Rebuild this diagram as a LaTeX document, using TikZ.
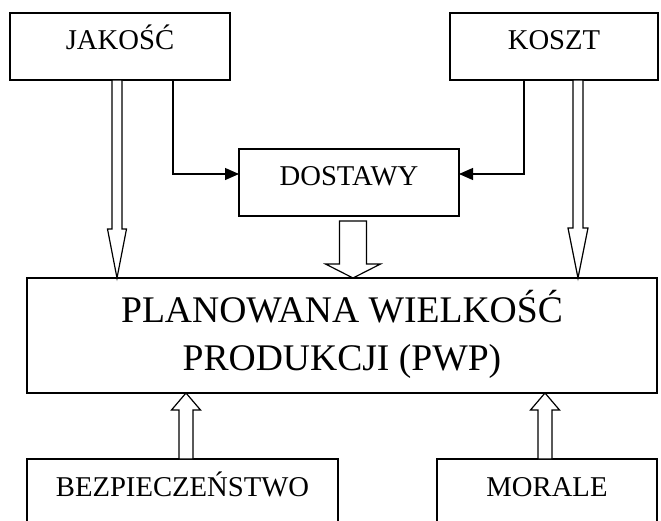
\documentclass[tikz,border=0pt]{standalone}
\usepackage{fontspec}
\setmainfont{Liberation Serif}
\usetikzlibrary{arrows.meta,calc}

\newcommand\labelfont{\fontsize{21.5pt}{26pt}\selectfont}
\newcommand\titlefont{\fontsize{28.2pt}{36pt}\selectfont}

% hollow block arrow: #1 tail point, #2 tip, #3 half shaft width,
% #4 half head width, #5 signed offset from the tip to the head base
\newcommand\blockarrow[5]{%
  \path (#2) ++(0,#5) coordinate (hb);
  \draw[blk] ($(#1)+(-#3,0)$) -- ($(hb)+(-#3,0)$) -- ($(hb)+(-#4,0)$)
    -- (#2) -- ($(hb)+(#4,0)$) -- ($(hb)+(#3,0)$) -- ($(#1)+(#3,0)$) -- cycle;
}

\begin{document}
\begin{tikzpicture}[x=0.75pt,y=-0.75pt,
  box/.style={draw, line width=1pt, rectangle, inner sep=0pt, outer sep=0pt,
    anchor=north west, font=\labelfont},
  conn/.style={line width=0.9pt, -{Triangle[length=10.5pt,width=9pt]}},
  blk/.style={draw, line width=0.9pt, fill=white, line join=miter}]
\useasboundingbox (0,0) rectangle (661,521);

% boxes
\node[box, minimum width=165pt, minimum height=50.25pt,
  text height=27.75pt, text depth=22.5pt] (jak) at (10,13) {JAKOŚĆ};
\node[box, minimum width=156pt, minimum height=50.25pt,
  text height=27.75pt, text depth=22.5pt] (kos) at (450,13) {KOSZT};
\node[box, minimum width=165pt, minimum height=50.25pt,
  text height=27pt, text depth=23.25pt] (dos) at (239,149) {DOSTAWY};
\node[box, minimum width=472.5pt, minimum height=86.25pt,
  text height=69pt, text depth=17.25pt, align=center, font=\titlefont]
  (pwp) at (27,278) {PLANOWANA WIELKOŚĆ\\PRODUKCJI (PWP)};
\node[box, minimum width=233.25pt, minimum height=60pt,
  text height=27.75pt, text depth=32.25pt] (bez) at (27,459) {BEZPIECZEŃSTWO};
\node[box, minimum width=165pt, minimum height=60pt,
  text height=27.75pt, text depth=32.25pt] (mor) at (437,459) {MORALE};

% guide positions for the connectors
\coordinate (xa) at (117,0);
\coordinate (xb) at (578,0);
\coordinate (xc) at (353,0);
\coordinate (xd) at (186,0);
\coordinate (xe) at (545,0);
\coordinate (xf) at (173,0);
\coordinate (xg) at (524,0);
\coordinate (ya) at (0,174);

% thin arrows into DOSTAWY
\draw[conn] (jak.south -| xf) |- (dos.west |- ya);
\draw[conn] (kos.south -| xg) |- (dos.east |- ya);

% hollow block arrows into PWP
\blockarrow{jak.south -| xa}{pwp.north -| xa}{5}{9.5}{-49}
\blockarrow{kos.south -| xb}{pwp.north -| xb}{5}{10}{-50}
\path (dos.south -| xc) ++(0,5) coordinate (ds);
\blockarrow{ds}{pwp.north -| xc}{13.5}{27.5}{-14}
\blockarrow{bez.north -| xd}{pwp.south -| xd}{7}{14.5}{17}
\blockarrow{mor.north -| xe}{pwp.south -| xe}{7}{14.5}{17}
\end{tikzpicture}
\end{document}
